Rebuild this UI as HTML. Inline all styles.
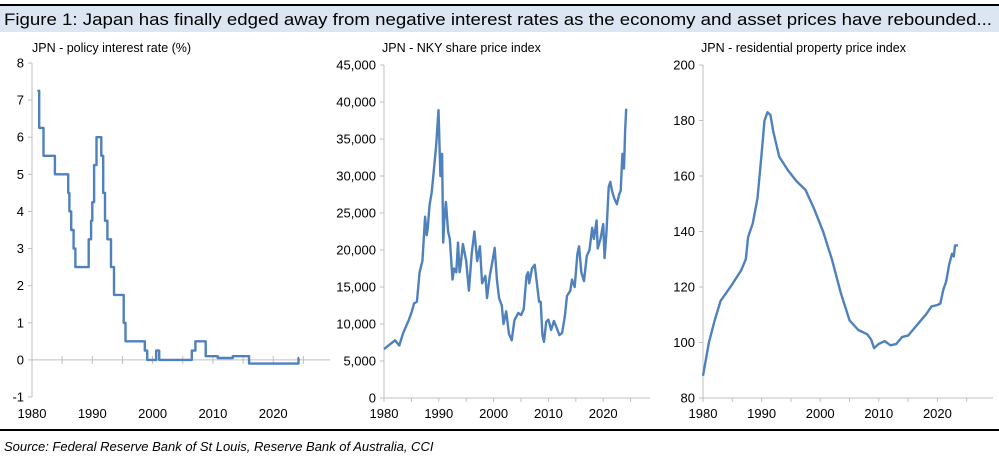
<!DOCTYPE html>
<html><head><meta charset="utf-8"><style>
body{margin:0;background:#fff;width:999px;height:459px;overflow:hidden;font-family:"Liberation Sans",sans-serif}
svg{display:block}
text{font-family:"Liberation Sans",sans-serif;fill:#000}
</style></head><body>
<svg id="s" width="999" height="459">
<line x1="0" y1="5" x2="999" y2="5" stroke="#000" stroke-width="2"/>
<rect x="0" y="6" width="999" height="26" fill="#dce6f2"/>
<text x="4" y="25" font-size="17" textLength="988" lengthAdjust="spacingAndGlyphs">Figure 1: Japan has finally edged away from negative interest rates as the economy and asset prices have rebounded...</text>
<line x1="0" y1="430" x2="999" y2="430" stroke="#000" stroke-width="2"/>
<text x="4" y="451" font-size="13" font-style="italic">Source: Federal Reserve Bank of St Louis, Reserve Bank of Australia, CCI</text>
</svg>
<script>
// Policy rate steps [start year, value]
const rateYears=[1980.9,1981.2,1981.9,1983.8,1986.0,1986.2,1986.5,1986.9,1987.2,1989.4,1989.8,1990.0,1990.3,1990.7,1991.5,1991.8,1992.1,1992.5,1993.1,1993.6,1995.2,1995.5,1998.7,1999.1,2000.6,2001.1,2006.5,2007.1,2008.8,2010.8,2013.3,2016.0,2024.2];
const rateValues=[7.25,6.25,5.5,5.0,4.5,4.0,3.5,3.0,2.5,3.25,3.75,4.25,5.25,6.0,5.5,4.5,3.75,3.25,2.5,1.75,1.0,0.5,0.25,0.0,0.25,0.0,0.25,0.5,0.1,0.05,0.1,-0.1,0.05];
const rateEnd=2024.3;
const nkyYears=[1980,1981,1982,1982.8,1983.5,1984.5,1985,1985.5,1986,1986.5,1987,1987.5,1987.8,1988,1988.3,1988.7,1989,1989.5,1989.95,1990.3,1990.6,1990.8,1991,1991.3,1991.7,1992,1992.5,1992.8,1993.2,1993.5,1993.8,1994,1994.4,1995,1995.5,1996,1996.5,1997,1997.5,1997.9,1998.5,1998.8,1999.3,1999.8,2000.2,2000.6,2001,2001.5,2001.8,2002.3,2002.8,2003.3,2003.8,2004.5,2005,2005.5,2006,2006.3,2006.5,2007,2007.5,2007.9,2008.3,2008.6,2008.9,2009.2,2009.6,2010,2010.5,2011,2011.5,2012,2012.5,2013,2013.4,2014,2014.3,2014.8,2015.3,2015.6,2016,2016.5,2017,2017.5,2018,2018.3,2018.8,2019,2019.5,2020,2020.25,2020.6,2021,2021.3,2021.6,2022,2022.5,2022.9,2023.2,2023.5,2023.8,2024,2024.2];
const nkyValues=[6600,7200,7800,7100,8800,10500,11500,12800,13000,17000,18500,24500,22000,23000,26000,27800,30000,34000,38900,30000,33000,21000,24000,26500,22500,21500,16000,17500,17000,21000,17000,18000,20800,18500,14500,19500,22500,18500,20500,15500,16500,13500,16500,18500,20300,16000,13500,12500,10000,11700,8700,7800,10500,11500,11200,12000,16500,17000,15500,17500,18000,15500,13000,13000,8500,7600,10300,10600,9200,10400,9500,8500,8800,11000,13800,14500,16000,15000,19500,20500,17000,15800,19200,20000,23000,21500,24000,20200,21500,23500,18900,22500,28500,29200,28000,27000,26200,27500,28000,33000,31000,36000,39100];
const propYears=[1980,1981,1982,1983,1985,1986.5,1987.3,1987.7,1988.5,1989.3,1990,1990.5,1991,1991.5,1992,1993,1994.5,1996,1997.5,1999,2000.5,2002,2003.5,2005,2006.5,2008,2008.7,2009.2,2010,2011,2012,2013,2014,2015,2016,2017,2018,2019,2020,2020.5,2021,2021.5,2022,2022.5,2022.8,2023,2023.5];
const propValues=[88,100,108,115,121,126,130,138,143,152,168,180,183,182,176,167,162,158,155,148,140,130,118,108,104.5,103,101,98,99.5,100.5,99,99.5,102,102.5,105,107.5,110,113,113.5,114,119,122,128,132,131,135,135];
const rateTicks=[-1,0,1,2,3,4,5,6,7,8];
const nkyTicks=[0,5000,10000,15000,20000,25000,30000,35000,40000,45000];
const propTicks=[80,100,120,140,160,180,200];
const yearTicks=[1980,1990,2000,2010,2020];

const NS="http://www.w3.org/2000/svg",S=document.getElementById('s');
function el(t,a,p){const e=document.createElementNS(NS,t);for(const k in a)e.setAttribute(k,a[k]);(p||S).appendChild(e);return e;}
function chart(o){
  const g=el('g',{});
  
  
  const xs=y=>o.x0+(y-1980)*o.pxYr;
  const ys=v=>o.yb+(v-o.ymin)/(o.ymax-o.ymin)*(o.yt-o.yb);
  const t=el('text',{x:o.tx,y:52,'font-size':12.5},g);t.textContent=o.title;
  
  const ya=el('line',{x1:o.x0,y1:o.yt,x2:o.x0,y2:o.yb,stroke:'#bfbfbf'},g);
  
  o.yticks.forEach(v=>{
    el('line',{x1:o.x0-4,x2:o.x0,y1:ys(v),y2:ys(v),stroke:'#bfbfbf'},g);
    const l=el('text',{x:o.x0-8,y:ys(v)+4.5,'font-size':13,'text-anchor':'end'},g);
    l.textContent=o.fmt(v);
    
  });
  const ax=ys(o.axisAt);
  const xa=el('line',{x1:o.x0,x2:o.xend,y1:ax,y2:ax,stroke:'#bfbfbf'},g);
  
  for(let y=1980;y<=2025;y+=5)el('line',{x1:xs(y),x2:xs(y),y1:ax-(o.cross?4:0),y2:ax+4,stroke:'#bfbfbf'},g);
  yearTicks.forEach(y=>{
    const l=el('text',{x:xs(y),y:418,'font-size':13,'text-anchor':'middle'},g);
    l.textContent=y;
    
  });
  const p=el('path',{d:o.path(xs,ys),fill:'none',stroke:'#4f81bd','stroke-width':2.4,'stroke-linejoin':'round'},g);
  
}
function linePath(X,Y){return (xs,ys)=>X.map((x,i)=>(i?'L':'M')+xs(x).toFixed(1)+' '+ys(Y[i]).toFixed(1)).join('');}
chart({name:'policy-rate-chart',title:'JPN - policy interest rate (%)',tx:32,x0:32,pxYr:6.03,xend:330,yt:63,yb:397,ymin:-1,ymax:8,yticks:rateTicks,axisAt:0,cross:true,fmt:v=>v,
  path:(xs,ys)=>{let d='';rateYears.forEach((y,i)=>{const n=i<rateYears.length-1?rateYears[i+1]:rateEnd;d+=(i?'L':'M')+xs(y).toFixed(1)+' '+ys(rateValues[i]).toFixed(1)+'L'+xs(n).toFixed(1)+' '+ys(rateValues[i]).toFixed(1);});return d;}});
chart({name:'nky-chart',title:'JPN - NKY share price index',tx:382,x0:384,pxYr:5.48,xend:650,yt:65,yb:398,ymin:0,ymax:45000,yticks:nkyTicks,axisAt:0,fmt:v=>v.toLocaleString('en-US'),path:linePath(nkyYears,nkyValues)});
chart({name:'property-chart',title:'JPN - residential property price index',tx:701,x0:703,pxYr:5.86,xend:993,yt:65,yb:398,ymin:80,ymax:200,yticks:propTicks,axisAt:80,fmt:v=>v,path:linePath(propYears,propValues)});
</script>
</body></html>
